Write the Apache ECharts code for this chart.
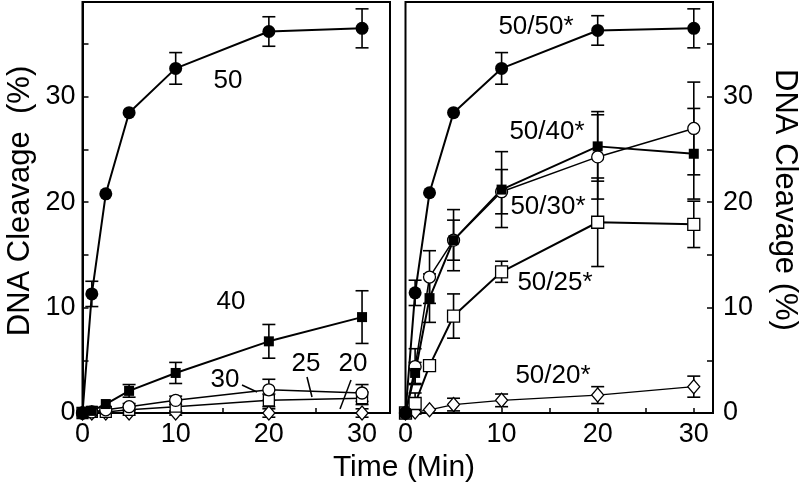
<!DOCTYPE html>
<html>
<head>
<meta charset="utf-8">
<script src="https://cdn.jsdelivr.net/npm/echarts@6/dist/echarts.min.js"></script>
<style>html,body{margin:0;padding:0;background:#fff}#c{width:800px;height:488px}</style>
</head>
<body>
<div id="c"></div>
<script>
// ---- data ----
const times = [0, 1, 2.5, 5, 10, 20, 30];
const xTicks = [0, 10, 20, 30];
const yTicks = [0, 10, 20, 30];

// left panel (single dose)
const left50 = [0, 11.3, 20.8, 28.5, 32.7, 36.2, 36.5];
const left50Err = [0, 1.2, 0, 0, 1.5, 1.4, 1.85];
const left40 = [0, 0.2, 0.85, 2.1, 3.8, 6.8, 9.1];
const left40Err = [0, 0, 0, 0.6, 1.0, 1.6, 2.5];
const left30 = [0, 0.1, 0.3, 0.6, 1.2, 2.2, 1.9];
const left30Err = [0, 0, 0, 0.3, 0.4, 1.0, 0.8];
const left25 = [0, 0.1, 0.1, 0.3, 0.6, 1.2, 1.4];
const left25Err = [0, 0, 0, 0.3, 0.5, 0.6, 0.6];
const left20 = [0, 0, 0, 0, 0, 0, 0];
const left20Err = [0, 0, 0, 0.2, 0.2, 0.4, 0.4];

// right panel (50/x*)
const right50 = [0, 11.4, 20.9, 28.5, 32.7, 36.3, 36.5];
const right50Err = [0, 1.2, 0, 0, 1.5, 1.4, 1.85];
const right40 = [0, 3.8, 10.9, 16.4, 21.2, 25.3, 24.6];
const right40Err = [0, 1.0, 2.3, 2.9, 3.6, 3.3, 4.3];
const right30 = [0, 4.4, 12.9, 16.4, 21.0, 24.3, 27.0];
const right30Err = [0, 1.7, 2.5, 1.9, 2.1, 4.0, 4.4];
const right25 = [0, 0.9, 4.5, 9.2, 13.4, 18.1, 17.9];
const right25Err = [0, 1.0, 0.4, 2.1, 1.0, 4.2, 2.2];
const right20 = [0, 0.1, 0.3, 0.8, 1.2, 1.7, 2.5];
const right20Err = [0, 0, 0, 0.6, 0.6, 0.8, 1.0];

const leftLabels = ['50', '40', '30', '25', '20'];
const rightLabels = ['50/50*', '50/40*', '50/30*', '50/25*', '50/20*'];
const yTitleLeft = 'DNA Cleavage  (%)';
const yTitleRight = 'DNA Cleavage (%)';
const xTitle = 'Time (Min)';

// ---- styles ----
const FF = '"Liberation Sans", Arial, Helvetica, sans-serif';
const K = '#000';

function axisX(gi, max) {
  return {
    gridIndex: gi, type: 'value', min: 0, max: max, interval: 5,
    axisLine: {show: true, onZero: false, lineStyle: {color: K, width: 2}},
    axisTick: {show: true, inside: true, length: 5, lineStyle: {color: K, width: 1.5}},
    axisLabel: {formatter: v => xTicks.includes(v) ? String(v) : '', fontSize: 27, color: K, fontFamily: FF, margin: 8},
    splitLine: {show: false}
  };
}
function axisY(gi, pos, margin) {
  return {
    gridIndex: gi, type: 'value', position: pos, min: 0, max: 39, interval: 5,
    axisLine: {show: true, onZero: false, lineStyle: {color: K, width: 2}},
    axisTick: {show: true, inside: true, length: 6, lineStyle: {color: K, width: 1.5}},
    axisLabel: {formatter: v => yTicks.includes(v) ? String(v) : '', fontSize: 27, color: K, fontFamily: FF, margin: margin},
    splitLine: {show: false}
  };
}

function lineSeries(gi, vals, sym, size, fill, lw) {
  return {
    type: 'line', xAxisIndex: gi, yAxisIndex: gi,
    data: times.map((t, i) => [t, vals[i]]),
    symbol: sym, symbolSize: size, showSymbol: true, clip: false,
    itemStyle: {color: fill, borderColor: K, borderWidth: fill === K ? 0 : 1.3},
    lineStyle: {color: K, width: lw},
    z: 3, animation: false, silent: true
  };
}
function errSeries(gi, vals, errs) {
  const data = [];
  times.forEach((t, i) => { if (errs[i] > 0) data.push([t, vals[i] - errs[i], vals[i] + errs[i]]); });
  return {
    type: 'custom', xAxisIndex: gi, yAxisIndex: gi, data: data, clip: false,
    encode: {x: 0, y: [1, 2]}, z: 2, animation: false, silent: true,
    renderItem: function (params, api) {
      const x = api.value(0);
      const lo = api.coord([x, api.value(1)]);
      const hi = api.coord([x, api.value(2)]);
      const w = 6.5;
      const st = {stroke: K, lineWidth: 1.6};
      return {type: 'group', children: [
        {type: 'line', shape: {x1: lo[0], y1: lo[1], x2: hi[0], y2: hi[1]}, style: st},
        {type: 'line', shape: {x1: lo[0] - w, y1: lo[1], x2: lo[0] + w, y2: lo[1]}, style: st},
        {type: 'line', shape: {x1: hi[0] - w, y1: hi[1], x2: hi[0] + w, y2: hi[1]}, style: st}
      ]};
    }
  };
}

function txt(x, y, s, size, rot) {
  return {type: 'text', x: x, y: y, rotation: rot || 0, z: 10, silent: true,
    style: {text: s, fill: K, fontSize: size, fontFamily: FF, align: 'center', verticalAlign: 'middle'}};
}
function seg(x1, y1, x2, y2) {
  return {type: 'line', z: 10, silent: true, shape: {x1, y1, x2, y2}, style: {stroke: K, lineWidth: 1.5}};
}

const chart = echarts.init(document.getElementById('c'), null, {renderer: 'canvas'});
chart.setOption({
  backgroundColor: '#fff',
  animation: false,
  grid: [
    {left: 82.5, top: 2, width: 307.5, height: 411, show: true, borderColor: K, borderWidth: 2, backgroundColor: 'transparent'},
    {left: 405.5, top: 2, width: 307.5, height: 411, show: true, borderColor: K, borderWidth: 2, backgroundColor: 'transparent'}
  ],
  xAxis: [axisX(0, 33), axisX(1, 32)],
  yAxis: [axisY(0, 'left', 7), axisY(1, 'right', 10)],
  series: [
    errSeries(0, left50, left50Err),
    errSeries(0, left40, left40Err),
    errSeries(0, left30, left30Err),
    errSeries(0, left25, left25Err),
    errSeries(0, left20, left20Err),
    lineSeries(0, left20, 'diamond', [12, 14], '#fff', 1.2),
    lineSeries(0, left25, 'rect', 11, '#fff', 1.5),
    lineSeries(0, left30, 'circle', 12, '#fff', 1.5),
    lineSeries(0, left40, 'rect', 10, K, 2),
    lineSeries(0, left50, 'circle', 13, K, 2),

    errSeries(1, right50, right50Err),
    errSeries(1, right40, right40Err),
    errSeries(1, right30, right30Err),
    errSeries(1, right25, right25Err),
    errSeries(1, right20, right20Err),
    lineSeries(1, right20, 'diamond', [12, 14], '#fff', 1.2),
    lineSeries(1, right25, 'rect', 12, '#fff', 2),
    lineSeries(1, right30, 'circle', 12, '#fff', 1.5),
    lineSeries(1, right40, 'rect', 10, K, 2),
    lineSeries(1, right50, 'circle', 13, K, 2)
  ],
  graphic: [
    txt(20, 201, yTitleLeft, 31, Math.PI / 2),
    txt(785, 200, yTitleRight, 31, -Math.PI / 2),
    txt(404, 468, xTitle, 30, 0),
    txt(228, 81, leftLabels[0], 26),
    txt(231, 302, leftLabels[1], 26),
    txt(225, 380, leftLabels[2], 26),
    txt(306, 364, leftLabels[3], 26),
    txt(353, 364, leftLabels[4], 26),
    seg(242, 385, 257, 392),
    seg(307, 377, 312, 397),
    seg(351, 380, 340, 409),
    txt(536, 27, rightLabels[0], 26),
    txt(547, 132, rightLabels[1], 26),
    txt(548, 207, rightLabels[2], 26),
    txt(555, 283, rightLabels[3], 26),
    txt(553, 376, rightLabels[4], 26)
  ]
});
</script>
</body>
</html>
